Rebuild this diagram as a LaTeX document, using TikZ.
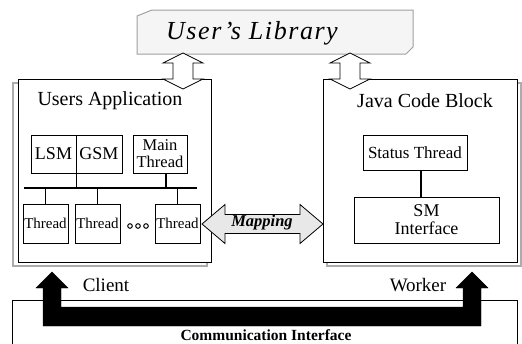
\documentclass[tikz,border=0pt]{standalone}
\usepackage{fontspec}
\setmainfont{Liberation Serif}
\newcommand{\fsz}[1]{\fontsize{#1}{#1}\selectfont}
\newcommand{\fszl}[2]{\fontsize{#1}{#2}\selectfont}
\tikzset{
  frame/.style={draw=black, line width=0.8pt, fill=white},
  shadowframe/.style={draw=gray!65, line width=1.6pt},
  inbox/.style={draw=black, line width=0.7pt, fill=white, inner sep=0pt, align=center},
  wire/.style={draw=black, line width=1.3pt},
  bus/.style={draw=black, line width=2pt},
  hollowarrow/.style={draw=black, line width=0.8pt, fill=white},
  greyarrow/.style={draw=black, line width=0.8pt, fill=gray!18},
  blockarrow/.style={fill=black, draw=black},
}
\begin{document}
\begin{tikzpicture}[x=1pt, y=-1pt]
\useasboundingbox (0,0) rectangle (522,343);

% library banner
\draw[draw=gray!75, line width=1pt, fill=gray!8]
  (137,16) -- (152,10) -- (413,10) -- (413,47) -- (406,54) -- (137,54) -- cycle;
\node (lib) at (252,33) {\fsz{26}\addfontfeatures{LetterSpace=6}\itshape User's Library};

% application and worker frames with their offset shadows
\draw[shadowframe] (13,83) rectangle (207,266);
\draw[shadowframe] (327,83) rectangle (521,266);
\draw[frame] (18,79) rectangle (211,262);
\draw[frame] (323,79) rectangle (517,262);
\node (appT) at (110,101) {\fsz{20}Users Application};
\node (javaT) at (425,101) {\fsz{20}Java Code Block};

% library <-> frames
\foreach \cx in {183,350}{
  \begin{scope}[shift={(\cx,0)}]
    \draw[hollowarrow] (0,53) -- (20,63) -- (10,63) -- (10,79) -- (20,79) -- (0,89)
      -- (-20,79) -- (-10,79) -- (-10,63) -- (-20,63) -- cycle;
  \end{scope}
}

% client side: state managers and threads
\node[inbox, minimum width=45pt, minimum height=38pt, font=\fsz{18}] (lsm) at (53.5,154) {LSM};
\node[inbox, minimum width=46pt, minimum height=38pt, font=\fsz{18}] (gsm) at (99,154) {GSM};
\node[inbox, minimum width=54pt, minimum height=38pt, font=\fszl{16.5}{17}] (main) at (160,154) {Main\\Thread};
\coordinate (busL) at (24,188);
\coordinate (busR) at (197,188);
\draw[bus] (busL) -- (busR);
\node[inbox, minimum width=45pt, minimum height=39pt, font=\fsz{15}] (t1) at (45.5,223.5) {Thread};
\node[inbox, minimum width=45pt, minimum height=39pt, font=\fsz{15}] (t2) at (97.5,223.5) {Thread};
\node[inbox, minimum width=45pt, minimum height=39pt, font=\fsz{15}] (t3) at (177.5,223.5) {Thread};
\foreach \dx in {130,138,146}{
  \draw[line width=1pt] (\dx,226) circle (2.3pt);
}
\draw[wire] (lsm.south east) -- (lsm.south east |- busL);
\draw[wire] ([xshift=6pt]main.south) -- ([xshift=6pt]main.south |- busL);
\draw[wire] (t1.north) -- (t1.north |- busL);
\draw[wire] (t2.north) -- (t2.north |- busL);
\draw[wire] (t3.north) -- (t3.north |- busL);

% worker side
\node[inbox, minimum width=104pt, minimum height=35pt, font=\fsz{17}] (st) at (415,152.5) {Status Thread};
\node[inbox, minimum width=145pt, minimum height=46pt, font=\fszl{18}{18}] (sm) at (426.5,220) {SM\\Interface};
\draw[wire] ([xshift=6pt]st.south) -- ([xshift=6pt]st.south |- sm.north);

% mapping between thread and interface
\draw[greyarrow] (202,224) -- (225,204.5) -- (225,214.5) -- (300,214.5) -- (300,204.5)
  -- (323,224) -- (300,243.5) -- (300,233.5) -- (225,233.5) -- (225,243.5) -- cycle;
\node (map) at (262,223) {\fsz{16.5}\bfseries\itshape Mapping};

% communication layer
\draw[draw=black, line width=0.8pt] (12,345) -- (12,300) -- (517,300) -- (517,345);
\draw[blockarrow] (43,326) -- (43,288) -- (36,288) -- (52,272) -- (68,288) -- (61,288)
  -- (61,307) -- (463,307) -- (463,288) -- (456,288) -- (472,272) -- (488,288)
  -- (481,288) -- (481,326) -- cycle;
\node (client) at (106,285) {\fsz{19}Client};
\node (worker) at (418,285) {\fsz{19}Worker};
\node (comm) at (266,335) {\fsz{15.5}\bfseries Communication Interface};
\end{tikzpicture}
\end{document}
